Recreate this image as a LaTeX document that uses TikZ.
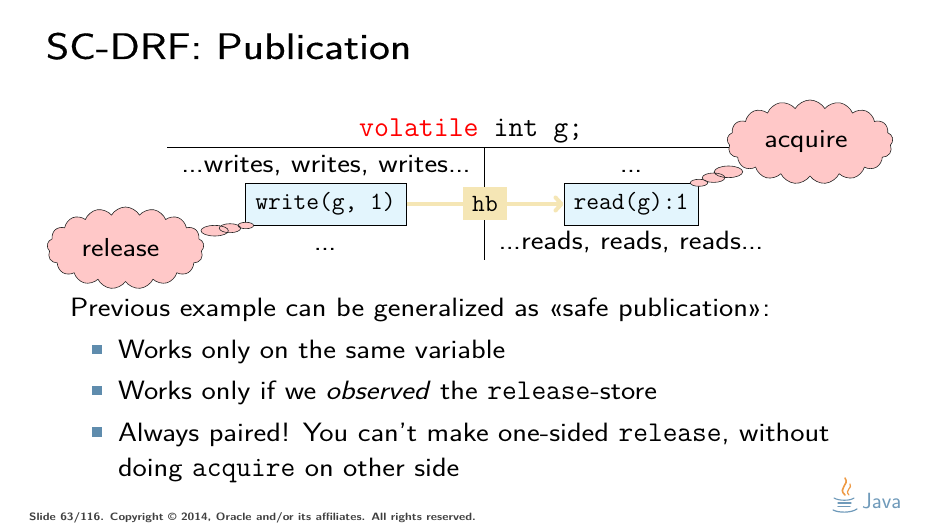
\documentclass[tikz,border=0pt]{standalone}
\usepackage{fontspec}
\setsansfont[FakeStretch=1.145]{Latin Modern Sans}
\newfontfamily\plainsans{Latin Modern Sans}
\newfontfamily\titlefont[FakeStretch=1.2,FakeBold=0.4]{Latin Modern Sans}
\usetikzlibrary{shapes.symbols,arrows.meta}
\definecolor{boxblue}{HTML}{E3F5FD}
\definecolor{cloudpink}{HTML}{FFC8C8}
\definecolor{hbtan}{HTML}{F5E6B5}
\definecolor{bulletblue}{HTML}{5F8CAD}
\definecolor{javablue}{HTML}{6F9ABA}
\definecolor{javaorange}{HTML}{EE9A45}
\newcommand\spreaddots{.\kern-0.7pt.\kern-0.7pt.}
\newcommand\code[1]{{\fontsize{28.6}{30}\selectfont\ttfamily #1}}
\tikzset{
  txt/.style={inner sep=0pt,outer sep=0pt,anchor=base west,font=\fontsize{26.5}{30}\selectfont\sffamily},
  dtxt/.style={inner sep=0pt,outer sep=0pt,anchor=base,font=\fontsize{26.5}{30}\selectfont\sffamily},
  opbox/.style={draw=black,line width=1pt,fill=boxblue,minimum height=42pt,inner sep=0pt,font=\fontsize{24.8}{28}\selectfont\ttfamily},
  thought/.style={cloud,draw=black!85,line width=0.6pt,fill=cloudpink,aspect=2,cloud puffs=17,cloud puff arc=120,inner sep=0pt,font=\fontsize{26}{30}\selectfont\sffamily},
  bubble/.style={draw=black!85,line width=0.6pt,fill=cloudpink},
  hbline/.style={draw=hbtan,line width=4pt},
  bul/.style={fill=bulletblue,minimum size=9.4pt,inner sep=0pt,draw=none},
}
\begin{document}
\begin{tikzpicture}[x=1pt,y=-1pt]
\useasboundingbox (0,0) rectangle (945,532);
\fill[white] (0,0) rectangle (945,532);
\node[txt,font=\fontsize{37}{42}\selectfont\titlefont] (title) at (46,59) {SC-DRF: Publication};
% code line and rules
\node[inner sep=0,anchor=base west,font=\fontsize{29}{32}\selectfont\ttfamily] (decl) at (359,136) {\textcolor{red}{volatile} int g;};
\coordinate (hl) at (167,148);
\coordinate (hr) at (735,148);
\coordinate (vt) at (484,148);
\coordinate (vb) at (484,260);
\draw[line width=1pt] (hl) -- (hr);
\draw[line width=1pt] (vt) -- (vb);
% labels
\node[dtxt] (wr) at (326,172) {\spreaddots writes, writes, writes\spreaddots};
\node[dtxt] (d1) at (631,172) {\spreaddots};
\node[dtxt] (d2) at (325,250) {\spreaddots};
\node[dtxt] (rd) at (631,249) {\spreaddots reads, reads, reads\spreaddots};
% boxes
\node[opbox,minimum width=161pt] (write) at (325.5,204) {\raisebox{-1pt}{write(g, 1)}};
\node[opbox,minimum width=134pt] (read) at (631,204) {\raisebox{-1pt}{read(g):1}};
\draw[hbline,-{Straight Barb[length=6pt,width=13pt,round]}] (write.east) -- (read.west);
\node[fill=hbtan,minimum width=44pt,minimum height=33pt,inner sep=0,font=\fontsize{24.8}{28}\selectfont\ttfamily] (hb) at (485,203.5) {hb};
% clouds and thought bubbles
\node[thought,minimum width=157pt,minimum height=82pt] (rel) at (125.5,248) {release\kern10pt};
\node[thought,minimum width=166pt,minimum height=84pt] (acq) at (810,142) {acquire\kern8pt};
\draw[bubble] (214.7,230.7) ellipse (13.7pt and 5.3pt) (230,228.2) ellipse (10.7pt and 4.5pt) (245.8,225.5) ellipse (7.8pt and 3.2pt);
\draw[bubble] (728.5,171.8) ellipse (14.2pt and 5.8pt) (713.6,177.7) ellipse (11.3pt and 4.7pt) (699,182.8) ellipse (8.7pt and 3.5pt);
% text
\node[txt] (p) at (70,316.5) {Previous example can be generalized as «safe publication»:};
\node[bul] (b1) at (97,349.5) {};
\node[txt] (t1) at (118,358.5) {Works only on the same variable};
\node[bul] (b2) at (97,390.5) {};
\node[txt] (t2) at (118,399) {Works only if we \textit{observed} the \code{release}-store};
\node[bul] (b3) at (97,432) {};
\node[txt] (t3) at (118,441.5) {Always paired! You can't make one-sided \code{release}, without};
\node[txt] (t4) at (118,476.5) {doing \code{acquire} on other side};
\node[inner sep=0,anchor=base west,text=black!75,font=\fontsize{10.6}{12}\selectfont\sffamily\bfseries] (foot) at (29,520) {Slide 63/116. Copyright \textcopyright{} 2014, Oracle and/or its affiliates. All rights reserved.};
% Java logo
\node[inner sep=0,anchor=base west,text=javablue,font=\fontsize{22}{24}\selectfont\plainsans] (java) at (862,508) {Java};
\draw[javaorange,line width=1.6pt,line cap=round] (845,495) .. controls (837,488) and (850,485) .. (845,478);
\draw[javaorange,line width=1.2pt,line cap=round] (849,495) .. controls (844,490) and (853,488) .. (850,484);
\draw[javablue,line width=1.1pt,line cap=round] (834,498) .. controls (839,501) and (850,501) .. (854,498);
\draw[javablue,line width=1.1pt,line cap=round] (838,503) -- (851,503);
\draw[javablue,line width=1.1pt,line cap=round] (838,506.5) -- (850,506.5);
\draw[javablue,line width=1.2pt,line cap=round] (833,510) .. controls (839,513) and (851,513) .. (857,509);
\end{tikzpicture}
\end{document}
